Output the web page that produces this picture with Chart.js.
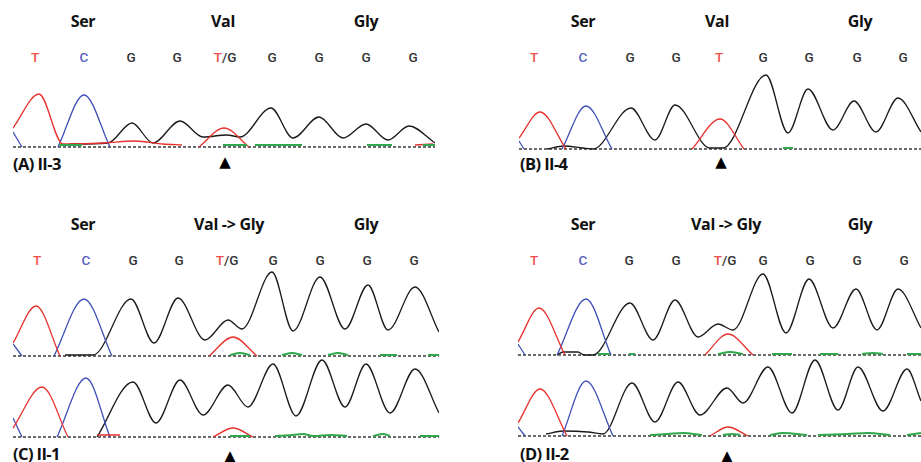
<!DOCTYPE html>
<html>
<head>
<meta charset="utf-8">
<script src="https://cdn.jsdelivr.net/npm/chart.js@4.4.1/dist/chart.umd.min.js"></script>
<style>
    body { margin: 0; background: #fff; width: 921px; height: 462px; position: relative; overflow: hidden; font-family: "Open Sans", sans-serif; }
    .t { position: absolute; white-space: nowrap; transform: translate(-50%, -50%); }
    .h { font-weight: 700; font-size: 16px; color: #111; letter-spacing: -0.3px; }
    .b { font-family: Roboto, sans-serif; font-weight: 500; font-size: 13.5px; color: #333; }
    .lab { position: absolute; white-space: nowrap; font-weight: 700; font-size: 16.5px; color: #111; transform: translateY(-50%); letter-spacing: -0.6px; }
    .tri { font-family: "DejaVu Sans", sans-serif; font-size: 15px; color: #000; }
    canvas { position: absolute; }
</style>
</head>
<body>
<script>
// Codon labels and base calls
const codonsWild = ['Ser', 'Val', 'Gly'];
const codonsMut = ['Ser', 'Val -> Gly', 'Gly'];
const basesHet = ['T', 'C', 'G', 'G', 'T/G', 'G', 'G', 'G', 'G'];
const basesWild = ['T', 'C', 'G', 'G', 'T', 'G', 'G', 'G', 'G'];
const sampleLabels = ['(A) II-3', '(B) II-4', '(C) II-1', '(D) II-2'];

// Trace control points [scan position, signal], null = gap
const aRed = [[0,19],[26,53],[50,3],[90,4],[122,6],[150,3],[169,2],null,[186,0],[211,19],[236,0],null,[402,2],[420,3]];
const aBlue = [[0,15],[9,0],null,[45,0],[71,52],[97,0]];
const aBlack = [[57,3],[95,4],[119,24],[140,4],[167,26],[190,10],[214,12],[227,10],[258,39],[280,9],[306,30],[330,9],[353,23],[375,7],[396,21],[422,4]];
const aGreen = [[46,2],[69,2],null,[210,2],[234,2],null,[242,2],[289,2],null,[354,2],[379,2],null,[410,2],[422,2]];

const bRed = [[0,11],[21,37],[47,0],null,[173,0],[201,30],[225,0]];
const bBlue = [[0,8],[5,0],null,[43,0],[67,43],[93,0]];
const bBlack = [[28,0],[45,3],[64,1],[74,0],[112,41],[136,9],[156,44],[191,1],[204,1],[247,74],[269,16],[289,60],[314,19],[335,48],[357,17],[379,51],[402,17]];
const bGreen = [[264,1],[274,1]];

const c1Red = [[0,13],[23,50],[47,0],null,[196,0],[220,19],[244,0]];
const c1Blue = [[0,12],[9,0],null,[41,0],[71,57],[99,0]];
const c1Black = [[52,1],[80,1],[118,57],[141,13],[165,58],[192,16],[215,36],[229,27],[259,84],[280,25],[307,79],[332,27],[355,71],[375,26],[402,69],[426,24]];
const c1Green = [[217,1],[227,3],[237,1],null,[269,1],[279,3],[289,1],null,[315,1],[325,3],[335,1],null,[367,1],[384,1],null,[415,1],[426,1]];

const c2Red = [[0,9],[29,50],[55,0],null,[84,2],[107,2],null,[200,0],[220,9],[240,0]];
const c2Blue = [[0,19],[9,0],null,[44,0],[73,59],[97,0]];
const c2Black = [[84,0],[120,55],[143,14],[167,57],[190,22],[215,52],[235,30],[260,73],[283,21],[309,77],[332,30],[353,73],[377,24],[402,68],[426,24]];
const c2Green = [[217,1],[237,1],null,[262,1],[280,2],[290,3],[300,1],[318,2],[334,1],null,[360,1],[370,3],[377,1],null,[407,1],[426,1]];

const d1Red = [[0,13],[21,47],[47,0],null,[187,0],[210,21],[235,0]];
const d1Blue = [[0,11],[7,0],null,[39,0],[68,56],[93,0]];
const d1Black = [[39,0],[45,3],[60,3],[66,0],[75,0],[112,52],[135,15],[157,55],[180,18],[200,31],[215,25],[245,81],[268,22],[291,76],[315,27],[338,66],[359,25],[380,66],[403,27]];
const d1Green = [[80,1],[92,1],null,[111,1],[117,1],null,[200,1],[212,3],[225,1],null,[254,1],[274,1],null,[302,1],[320,1],null,[344,1],[355,2],[365,1],null,[389,1],[403,1]];

const d2Red = [[0,13],[22,47],[49,0],null,[192,0],[210,9],[230,0]];
const d2Blue = [[0,9],[7,0],null,[44,0],[68,55],[95,0]];
const d2Black = [[28,2],[45,5],[70,4],[85,2],[114,53],[137,14],[160,54],[182,21],[209,48],[225,33],[250,69],[274,23],[297,76],[320,26],[340,69],[365,25],[389,67],[403,35]];
const d2Green = [[132,1],[150,2],[165,3],[184,1],null,[205,1],[214,2],[222,1],null,[252,1],[265,3],[289,1],null,[300,1],[330,2],[350,3],[372,1],null,[389,1],[403,3]];

// colours
const RED = '#e8302c', BLUE = '#4050b8', BLACK = '#1a1a1a', GREEN = '#2ea84a';
const LETTER = { T: '#f0504a', C: '#5560c0', G: '#333' };

// page layout of the text
const textBlocks = [
    { codons: codonsWild, bases: basesHet, hx: [83, 223, 366], hy: 21, lx: [35, 84, 131, 177, 225, 272, 319, 366, 413], ly: 57 },
    { codons: codonsWild, bases: basesWild, hx: [583, 717, 860], hy: 21, lx: [534, 583, 630, 676, 719, 763, 809, 857, 903], ly: 57 },
    { codons: codonsMut, bases: basesHet, hx: [83, 229, 366], hy: 224, lx: [37, 86, 133, 179, 227, 273, 320, 367, 414], ly: 260 },
    { codons: codonsMut, bases: basesHet, hx: [583, 726, 860], hy: 224, lx: [534, 583, 629, 676, 725, 763, 810, 857, 904], ly: 260 }
];
const labelPos = [[13, 163], [520, 163], [13, 453], [520, 453]];
const arrowPos = [[225, 162], [721, 162], [230, 456], [727, 456]];

// trace boxes: left, width, baseline, top
const traces = [
    { left: 13, width: 422, base: 147, top: 90, sets: [aGreen, aRed, aBlue, aBlack] },
    { left: 519, width: 402, base: 149, top: 72, sets: [bGreen, bRed, bBlue, bBlack] },
    { left: 13, width: 426, base: 356, top: 268, sets: [c1Green, c1Red, c1Blue, c1Black] },
    { left: 13, width: 426, base: 437, top: 356, sets: [c2Green, c2Red, c2Blue, c2Black] },
    { left: 518, width: 403, base: 355, top: 270, sets: [d1Green, d1Red, d1Blue, d1Black] },
    { left: 518, width: 403, base: 436, top: 356, sets: [d2Green, d2Red, d2Blue, d2Black] }
];
const setColors = [GREEN, RED, BLUE, BLACK];

function addText(cls, html, x, y) {
    const el = document.createElement('div');
    el.className = cls;
    el.innerHTML = html;
    el.style.left = x + 'px';
    el.style.top = y + 'px';
    document.body.appendChild(el);
}

function baseHtml(b) {
    if (b === 'T/G') return '<span style="color:' + LETTER.T + '">T</span>/G';
    return '<span style="color:' + LETTER[b] + '">' + b + '</span>';
}

textBlocks.forEach(function (blk) {
    blk.codons.forEach(function (c, i) { addText('t h', c, blk.hx[i], blk.hy); });
    blk.bases.forEach(function (b, i) { addText('t b', baseHtml(b), blk.lx[i], blk.ly); });
});
sampleLabels.forEach(function (s, i) { addText('lab', s, labelPos[i][0], labelPos[i][1]); });
arrowPos.forEach(function (p) { addText('t tri', '\u25B2', p[0], p[1]); });

// turn [x,y] pairs into chart points, null becomes a break
function toPoints(arr) {
    const out = [];
    arr.forEach(function (p, i) {
        if (p === null) {
            out.push({ x: arr[i - 1][0] + 0.5, y: null });
        } else {
            out.push({ x: p[0], y: p[1] });
        }
    });
    return out;
}

// dashed baseline under the traces
const baselinePlugin = {
    id: 'baseline',
    beforeDatasetsDraw: function (chart) {
        const c = chart.ctx, y = chart.scales.y.getPixelForValue(0);
        c.save();
        c.strokeStyle = '#3a3a3a';
        c.lineWidth = 1.5;
        c.setLineDash([3, 2]);
        c.beginPath();
        c.moveTo(chart.chartArea.left, y);
        c.lineTo(chart.chartArea.right, y);
        c.stroke();
        c.restore();
    }
};

traces.forEach(function (tr) {
    const h = tr.base - tr.top + 3;
    const cv = document.createElement('canvas');
    cv.width = tr.width;
    cv.height = h;
    cv.style.left = tr.left + 'px';
    cv.style.top = tr.top + 'px';
    cv.style.width = tr.width + 'px';
    cv.style.height = h + 'px';
    document.body.appendChild(cv);

    new Chart(cv.getContext('2d'), {
        type: 'line',
        data: {
            datasets: tr.sets.map(function (s, i) {
                return {
                    data: toPoints(s),
                    borderColor: setColors[i],
                    borderWidth: i === 0 ? 2 : 1.3,
                    pointRadius: 0,
                    fill: false,
                    spanGaps: false,
                    cubicInterpolationMode: 'monotone'
                };
            })
        },
        options: {
            responsive: false,
            animation: false,
            devicePixelRatio: 1,
            layout: { padding: 0 },
            scales: {
                x: { type: 'linear', display: false, min: 0, max: tr.width },
                y: { display: false, min: -3, max: tr.base - tr.top }
            },
            plugins: { legend: { display: false }, tooltip: { enabled: false } }
        },
        plugins: [baselinePlugin]
    });
});
</script>
</body>
</html>
